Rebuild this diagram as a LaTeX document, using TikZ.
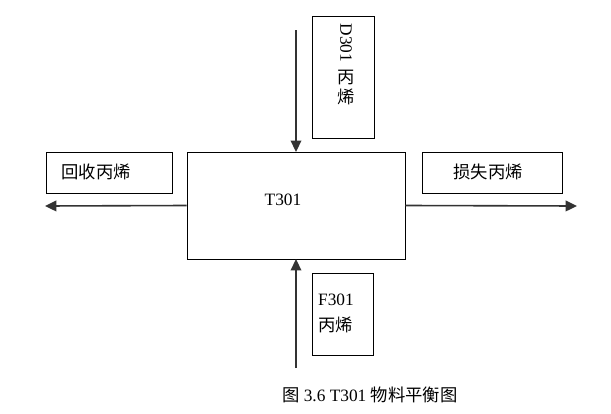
\documentclass[tikz,border=0pt]{standalone}
\usepackage{fontspec}
\setmainfont{Liberation Serif}
\newfontfamily\cjk{Noto Sans CJK SC}
\usetikzlibrary{arrows.meta}
\tikzset{
>={Triangle[length=8.5pt,width=8pt]},
scatola/.style={draw,thin,inner sep=0pt},
freccia/.style={->,line width=1.2pt,black!80},
testo/.style={inner sep=0pt,font=\fontsize{13pt}{19.5pt}\selectfont}}

\begin{document}
\begin{tikzpicture}[x=0.75pt,y=-0.75pt]
\useasboundingbox (0,0) rectangle (611,414);

\node[scatola,minimum width=163.5pt,minimum height=80pt] (t301) at (296,205.5) {};
\node[testo] at (283,200) {T301};

\node[scatola,minimum width=46.5pt,minimum height=91.5pt] (d301) at (343,77) {};
\node[testo,rotate=-90] at (346,43) {D301};
\node[testo] at (346,77) {\cjk 丙};
\node[testo] at (346,97) {\cjk 烯};

\node[scatola,minimum width=46pt,minimum height=61.5pt] (f301) at (342.5,314) {};
\node[testo,align=left] at (336,313) {F301\\\cjk 丙烯};

\node[scatola,minimum width=94.5pt,minimum height=31pt] (rec) at (109,172.5) {};
\node[testo] at (96,172) {\cjk 回收丙烯};

\node[scatola,minimum width=105pt,minimum height=31pt] (loss) at (492,172.5) {};
\node[testo] at (488,172) {\cjk 损失丙烯};

\coordinate (alto) at (296,30);
\coordinate (basso) at (296,368);
\coordinate (sin) at (45,206);
\coordinate (des) at (577,206);

\path[freccia]
	(alto) edge (t301.north)
	(basso) edge (t301.south)
	(t301.west) edge (sin)
	(t301.east) edge (des);

\node[testo] at (370,395) {\cjk 图\ \rmfamily 3.6 T301 \cjk 物料平衡图};
\end{tikzpicture}
\end{document}
